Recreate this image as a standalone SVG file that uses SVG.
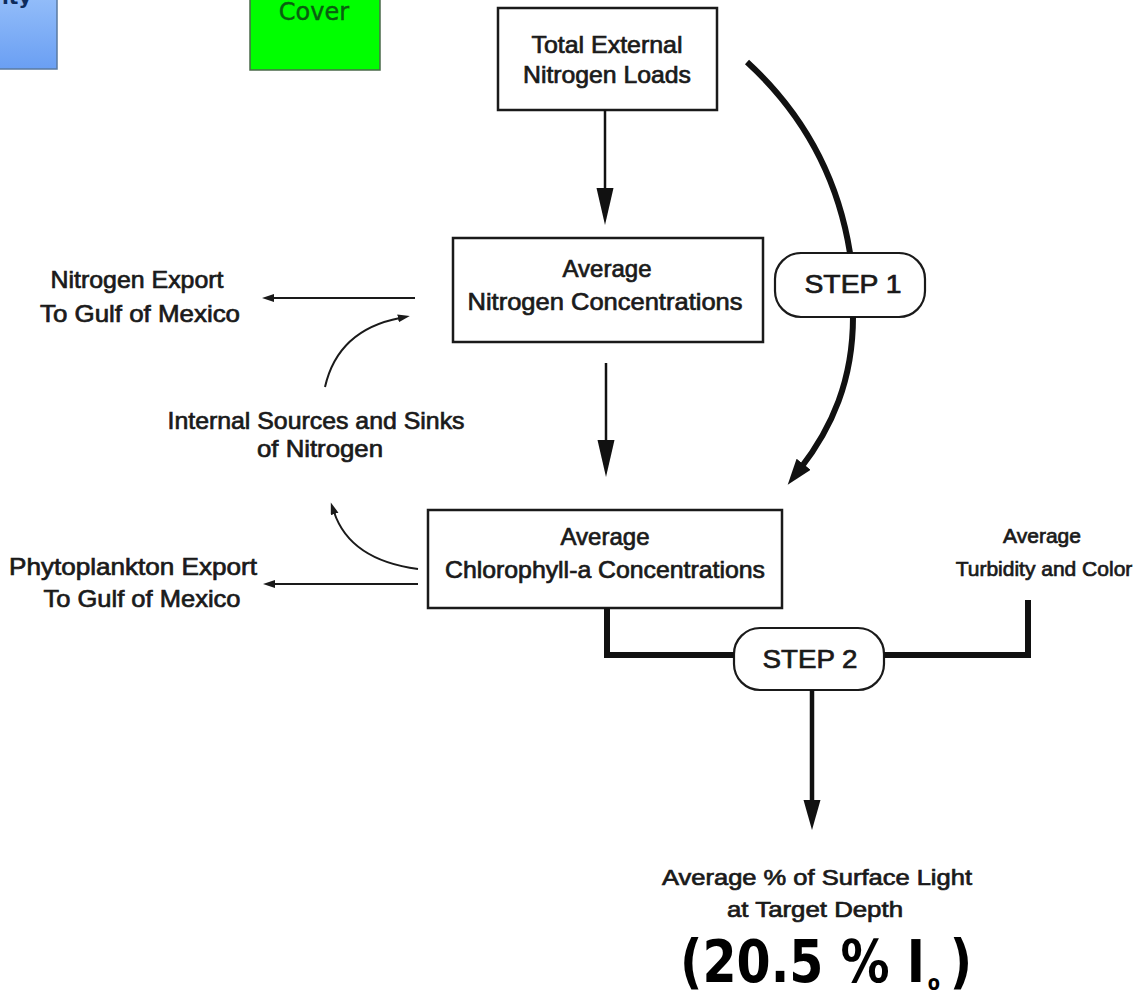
<svg xmlns="http://www.w3.org/2000/svg" width="1134" height="995" viewBox="0 0 1134 995">
<style>
.t{font-family:"Liberation Sans",Arial,sans-serif;font-size:24px;fill:#1a1a1a;stroke:#1a1a1a;stroke-width:0.7px;text-anchor:middle}
.box{fill:#fff;stroke:#1a1a1a;stroke-width:2.5}
.pill{fill:#fff;stroke:#1a1a1a;stroke-width:2.2}
.thin{fill:none;stroke:#1a1a1a;stroke-width:2}
.thick{fill:none;stroke:#111;stroke-width:6}
.mid{fill:none;stroke:#111;stroke-width:2.5}
.big{font-family:"DejaVu Sans",sans-serif;font-weight:bold;fill:#000}
</style>
<defs>
<linearGradient id="blueg" x1="0" y1="0" x2="0" y2="1">
<stop offset="0" stop-color="#93bdf9"/>
<stop offset="1" stop-color="#6a9ff3"/>
</linearGradient>
<marker id="big" markerUnits="userSpaceOnUse" markerWidth="30" markerHeight="20" refX="6" refY="9" orient="auto">
<path d="M0,0 L26,9 L0,18 z" fill="#111"/>
</marker>
<marker id="med" markerUnits="userSpaceOnUse" markerWidth="40" markerHeight="20" refX="3" refY="8.5" orient="auto">
<path d="M0,0 L37,8.5 L0,17 z" fill="#111"/>
</marker>
<marker id="med2" markerUnits="userSpaceOnUse" markerWidth="34" markerHeight="20" refX="3" refY="8.5" orient="auto">
<path d="M0,0 L30,8.5 L0,17 z" fill="#111"/>
</marker>
<marker id="small" markerUnits="userSpaceOnUse" markerWidth="14" markerHeight="10" refX="2" refY="4" orient="auto">
<path d="M0,0 L12,4 L0,8 z" fill="#1a1a1a"/>
</marker>
</defs>
<rect width="1134" height="995" fill="#fff"/>

<g id="blue-box">
<rect x="-3" y="-3" width="60" height="72" fill="url(#blueg)" stroke="#5a7aa0" stroke-width="1.5"/>
<text x="2" y="4" font-family="DejaVu Sans,sans-serif" font-weight="bold" font-size="20" fill="#0d2b5c">ity</text>
</g>

<g id="green-box">
<rect x="250" y="-3" width="130" height="73" fill="#00ff00" stroke="#4a6a4a" stroke-width="1.5"/>
<text x="314" y="20" font-family="DejaVu Sans,sans-serif" font-size="24" fill="#0a5e10" stroke="#0a5e10" stroke-width="0.4" text-anchor="middle">Cover</text>
</g>

<g id="total-external">
<rect class="box" x="498" y="8" width="219" height="102"/>
<text class="t" x="607" y="53" textLength="151" lengthAdjust="spacingAndGlyphs">Total External</text>
<text class="t" x="607" y="83" textLength="168" lengthAdjust="spacingAndGlyphs">Nitrogen Loads</text>
</g>

<g id="avg-nitrogen">
<rect class="box" x="453" y="238" width="310" height="104"/>
<text class="t" x="607" y="277">Average</text>
<text class="t" x="605" y="310" textLength="275" lengthAdjust="spacingAndGlyphs">Nitrogen Concentrations</text>
</g>

<g id="avg-chl">
<rect class="box" x="428" y="510" width="354" height="98"/>
<text class="t" x="605" y="545">Average</text>
<text class="t" x="605" y="578" textLength="320" lengthAdjust="spacingAndGlyphs">Chlorophyll-a Concentrations</text>
</g>

<g id="step1">
<rect class="pill" x="775" y="253" width="150" height="64" rx="26" ry="26"/>
<text class="t" x="853" y="293" style="font-size:25px" textLength="97" lengthAdjust="spacingAndGlyphs">STEP 1</text>
</g>

<g id="step2">
<rect class="pill" x="734" y="628" width="150" height="62" rx="26" ry="26"/>
<text class="t" x="810" y="668" style="font-size:25px" textLength="95" lengthAdjust="spacingAndGlyphs">STEP 2</text>
</g>

<g id="nitrogen-export">
<text class="t" x="137" y="288" textLength="173" lengthAdjust="spacingAndGlyphs">Nitrogen Export</text>
<text class="t" x="140" y="322" textLength="200" lengthAdjust="spacingAndGlyphs">To Gulf of Mexico</text>
</g>

<g id="internal">
<text class="t" x="316" y="429" textLength="297" lengthAdjust="spacingAndGlyphs">Internal Sources and Sinks</text>
<text class="t" x="320" y="457" textLength="126" lengthAdjust="spacingAndGlyphs">of Nitrogen</text>
</g>

<g id="phyto-export">
<text class="t" x="133" y="575" textLength="248" lengthAdjust="spacingAndGlyphs">Phytoplankton Export</text>
<text class="t" x="142" y="607" textLength="197" lengthAdjust="spacingAndGlyphs">To Gulf of Mexico</text>
</g>

<g id="turbidity">
<text class="t" x="1042" y="543" style="font-size:21px">Average</text>
<text class="t" x="1044" y="576" style="font-size:21px">Turbidity and Color</text>
</g>

<g id="light">
<text class="t" x="817" y="885" style="font-size:22px" textLength="310" lengthAdjust="spacingAndGlyphs">Average % of Surface Light</text>
<text class="t" x="815" y="917" style="font-size:22px" textLength="176" lengthAdjust="spacingAndGlyphs">at Target Depth</text>
<text class="big" font-size="58" transform="translate(680,982) scale(0.846,1)">(20.5 % I<tspan x="293" y="8" font-size="21">o</tspan><tspan x="319" y="0">)</tspan></text>
</g>

<g id="connectors">
<path class="mid" d="M605 110 V191" marker-end="url(#med)"/>
<path class="mid" d="M606 363 V443" marker-end="url(#med)"/>
<path class="thick" d="M747 62 Q832 140 850 253"/>
<path class="thick" d="M853 317 C853 380 832 428 800 469" marker-end="url(#big)"/>
<path class="thin" d="M415 298 H272" marker-end="url(#small)"/>
<path class="thin" d="M325 387 Q338 330 400 318" marker-end="url(#small)"/>
<path class="thin" d="M418 569 Q350 560 334 512" marker-end="url(#small)"/>
<path class="thin" d="M418 584 H273" marker-end="url(#small)"/>
<path class="thick" d="M607 608 V655 H734"/>
<path class="thick" d="M884 655 H1028 V600"/>
<path class="thick" d="M812 690 V803" style="stroke-width:4.5" marker-end="url(#med2)"/>
</g>
</svg>
